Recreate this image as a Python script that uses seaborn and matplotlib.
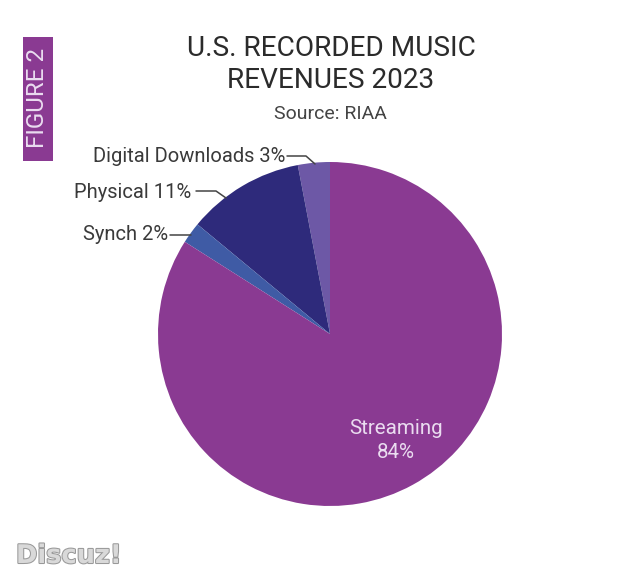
import matplotlib
matplotlib.use('Agg')
import matplotlib.pyplot as plt
import matplotlib.patheffects as pe
from matplotlib.lines import Line2D
from matplotlib.patches import Rectangle
import seaborn as sns

W, H = 642, 580

# Slices, counter clockwise from 12 o'clock
categories = ['Digital Downloads', 'Physical', 'Synch', 'Streaming']
shares = [3, 11, 2, 84]
slice_colors = ['#6D58A6', '#2E2A7B', '#3F5BA5', '#8A3A92']

sns.set_theme(style='white')
plt.rcParams['font.family'] = ['Roboto', 'DejaVu Sans']


# pixel position in the picture -> figure fraction
def fx(x):
    return x / W


def fy(y):
    return 1 - y / H


fig = plt.figure(figsize=(W / 100, H / 100), dpi=100, facecolor='white')

# The pie
ax = fig.add_axes([fx(158), fy(506), 344 / W, 344 / H])
ax.pie(shares, colors=sns.color_palette(slice_colors), startangle=90, counterclock=True, radius=1,
       wedgeprops={'linewidth': 0})
ax.set_xlim(-1, 1)
ax.set_ylim(-1, 1)
ax.set_axis_off()

# Title block
fig.text(fx(331), fy(48), 'U.S. RECORDED MUSIC', fontsize=20.2, color='#2b2b2b', ha='center', va='center')
fig.text(fx(331), fy(81), 'REVENUES 2023', fontsize=20.2, color='#2b2b2b', ha='center', va='center')
fig.text(fx(330), fy(114), 'Source: RIAA', fontsize=14, color='#444444', ha='center', va='center')

# Purple tag on the left
fig.add_artist(Rectangle((fx(23), fy(161)), 30 / W, 124 / H, transform=fig.transFigure, color='#8A3A92', lw=0))
fig.text(fx(38), fy(98), 'FIGURE 2', fontsize=17.4, color='#eadcf0', rotation=90, ha='center', va='center')

# Outside labels
label_color = '#3a3a3a'
fig.text(fx(285), fy(157), f'{categories[0]} {shares[0]}%', fontsize=14.5, color=label_color, ha='right', va='center')
fig.text(fx(191), fy(192), f'{categories[1]} {shares[1]}%', fontsize=14.5, color=label_color, ha='right', va='center')
fig.text(fx(168), fy(235), f'{categories[2]} {shares[2]}%', fontsize=14.5, color=label_color, ha='right', va='center')

# Leader lines
for xs, ys in [([287, 306, 315], [156, 156, 164]),
               ([196, 216, 226], [191, 191, 198]),
               ([170, 191], [235, 235])]:
    fig.add_artist(Line2D([fx(x) for x in xs], [fy(y) for y in ys], transform=fig.transFigure,
                          color='#444444', lw=1.1))

# Label inside the big slice
fig.text(fx(396), fy(429), categories[3], fontsize=14.8, color='#eadcf0', ha='center', va='center')
fig.text(fx(396), fy(452), f'{shares[3]}%', fontsize=14.8, color='#eadcf0', ha='center', va='center')

# Watermark
wm = fig.text(fx(16), fy(556), 'Discuz!', fontsize=18.5, fontweight='bold', family=['DejaVu Sans'],
              color='#d9d9d9', ha='left', va='center')
wm.set_path_effects([pe.withStroke(linewidth=1.5, foreground='#999999')])

fig.savefig('out.png', dpi=100)
